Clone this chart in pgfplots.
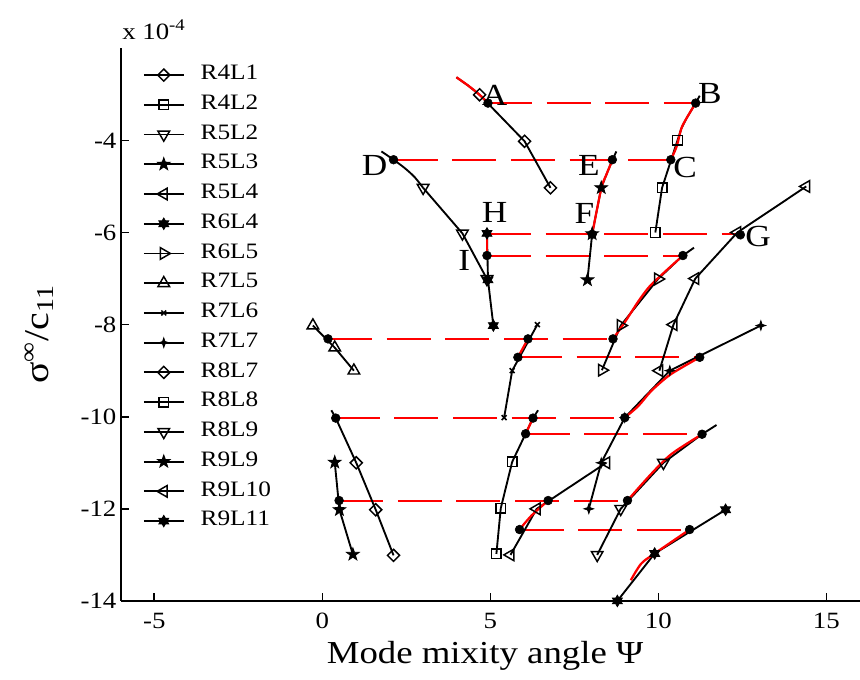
\documentclass[border=0pt]{standalone}
\usepackage{fontspec}
\setmainfont{Liberation Serif}[FakeStretch=1.15]
\usepackage{pgfplots}
\pgfplotsset{compat=1.18}

% filled five-pointed star
\pgfdeclareplotmark{starfive}{%
  \pgfpathmoveto{\pgfpointpolar{90}{\pgfplotmarksize}}%
  \pgfpathlineto{\pgfpointpolar{126}{0.4*\pgfplotmarksize}}%
  \pgfpathlineto{\pgfpointpolar{162}{\pgfplotmarksize}}%
  \pgfpathlineto{\pgfpointpolar{198}{0.4*\pgfplotmarksize}}%
  \pgfpathlineto{\pgfpointpolar{234}{\pgfplotmarksize}}%
  \pgfpathlineto{\pgfpointpolar{270}{0.4*\pgfplotmarksize}}%
  \pgfpathlineto{\pgfpointpolar{306}{\pgfplotmarksize}}%
  \pgfpathlineto{\pgfpointpolar{342}{0.4*\pgfplotmarksize}}%
  \pgfpathlineto{\pgfpointpolar{18}{\pgfplotmarksize}}%
  \pgfpathlineto{\pgfpointpolar{54}{0.4*\pgfplotmarksize}}%
  \pgfpathclose
  \pgfusepathqfillstroke
}
% filled six-pointed star
\pgfdeclareplotmark{starsix}{%
  \pgfpathmoveto{\pgfpointpolar{90}{\pgfplotmarksize}}%
  \pgfpathlineto{\pgfpointpolar{120}{0.577*\pgfplotmarksize}}%
  \pgfpathlineto{\pgfpointpolar{150}{\pgfplotmarksize}}%
  \pgfpathlineto{\pgfpointpolar{180}{0.577*\pgfplotmarksize}}%
  \pgfpathlineto{\pgfpointpolar{210}{\pgfplotmarksize}}%
  \pgfpathlineto{\pgfpointpolar{240}{0.577*\pgfplotmarksize}}%
  \pgfpathlineto{\pgfpointpolar{270}{\pgfplotmarksize}}%
  \pgfpathlineto{\pgfpointpolar{300}{0.577*\pgfplotmarksize}}%
  \pgfpathlineto{\pgfpointpolar{330}{\pgfplotmarksize}}%
  \pgfpathlineto{\pgfpointpolar{0}{0.577*\pgfplotmarksize}}%
  \pgfpathlineto{\pgfpointpolar{30}{\pgfplotmarksize}}%
  \pgfpathlineto{\pgfpointpolar{60}{0.577*\pgfplotmarksize}}%
  \pgfpathclose
  \pgfusepathqfillstroke
}
% filled four-pointed star
\pgfdeclareplotmark{starfour}{%
  \pgfpathmoveto{\pgfpointpolar{0}{\pgfplotmarksize}}%
  \pgfpathlineto{\pgfpointpolar{45}{0.35*\pgfplotmarksize}}%
  \pgfpathlineto{\pgfpointpolar{90}{\pgfplotmarksize}}%
  \pgfpathlineto{\pgfpointpolar{135}{0.35*\pgfplotmarksize}}%
  \pgfpathlineto{\pgfpointpolar{180}{\pgfplotmarksize}}%
  \pgfpathlineto{\pgfpointpolar{225}{0.35*\pgfplotmarksize}}%
  \pgfpathlineto{\pgfpointpolar{270}{\pgfplotmarksize}}%
  \pgfpathlineto{\pgfpointpolar{315}{0.35*\pgfplotmarksize}}%
  \pgfpathclose
  \pgfusepathqfillstroke
}

\pgfplotsset{
  serline/.style={color=black, line width=1.4pt},
  extline/.style={color=black, line width=1.4pt},
  fitline/.style={color=red, line width=1.7pt, smooth, tension=0.5},
  lvlline/.style={color=red, draw=red, line width=1.5pt, dash pattern=on 33pt off 11pt},
  dotpts/.style={color=black, only marks, mark=*, mark size=3.3pt},
}

\begin{document}
\begin{tikzpicture}
\begin{axis}[
  name=ax,
  scale only axis, width=554.5pt, height=414.5pt,
  xmin=-6, xmax=16, ymin=-14, ymax=-2,
  axis x line*=bottom, axis y line*=left,
  axis line style={-, line width=1.4pt},
  xtick={-5,0,5,10,15}, xticklabels={-5,0,5,10,15},
  ytick={-14,-12,-10,-8,-6,-4}, yticklabels={-14,-12,-10,-8,-6,-4},
  tick align=inside, major tick length=6pt,
  tick style={line width=1.2pt, black},
  tick label style={font=\fontsize{17.5}{20}\selectfont},
  xticklabel style={inner sep=0pt, yshift=-9pt},
  yticklabel style={inner sep=0pt, xshift=-3pt},
  xlabel={Mode mixity angle \symbol{"03A8}},
  xlabel style={at={(axis description cs:0.4928,0)}, anchor=north, yshift=-30.2pt, inner sep=0pt, font=\fontsize{24}{28}\selectfont},
  clip=false,
  legend cell align=left,
  legend style={draw=none, fill=none, inner sep=0pt, outer sep=0pt,
    at={(axis description cs:0.030,0.972)}, anchor=north west,
    font=\fontsize{16.5}{19}\selectfont, row sep=5.3pt,
    nodes={inner sep=0pt, text height=12pt, text depth=5pt},
    /tikz/every odd column/.style={column sep=12pt}},
  legend image code/.code={\draw[mark repeat=2, mark phase=2] plot coordinates {(0pt,0pt) (15pt,0pt) (30pt,0pt)};},
]

% constant-load levels joining matched points
\addplot[lvlline, forget plot] coordinates {(4.93,-3.19) (11.11,-3.19)};
\addplot[lvlline, forget plot] coordinates {(2.12,-4.42) (10.37,-4.42)};
\addplot[lvlline, forget plot] coordinates {(4.90,-6.04) (12.44,-6.04)};
\addplot[lvlline, forget plot] coordinates {(4.90,-6.50) (10.73,-6.50)};
\addplot[lvlline, forget plot] coordinates {(0.17,-8.31) (8.65,-8.31)};
\addplot[lvlline, forget plot] coordinates {(5.82,-8.71) (11.23,-8.71)};
\addplot[lvlline, forget plot] coordinates {(0.40,-10.03) (9.00,-10.03)};
\addplot[lvlline, forget plot] coordinates {(6.05,-10.37) (11.30,-10.37)};
\addplot[lvlline, forget plot] coordinates {(0.50,-11.82) (9.08,-11.82)};
\addplot[lvlline, forget plot] coordinates {(5.87,-12.45) (10.93,-12.45)};

% configurations
\addplot[serline, mark=square, mark size=3.2pt, mark options={solid, rotate=45, fill=white, line width=1.1pt}]
  coordinates {(4.68,-3.01) (6.02,-4.02) (6.79,-5.03)};
\addlegendentry{R4L1}
\addplot[serline, mark=square, mark size=3.6pt, mark options={solid, fill=white, line width=1.1pt}]
  coordinates {(9.91,-6.00) (10.11,-5.03) (10.57,-4.00)};
\addlegendentry{R4L2}
\addplot[serline, mark=triangle, mark size=5pt, mark options={solid, rotate=180, fill=white, line width=1.1pt}]
  coordinates {(3.00,-5.03) (4.17,-6.02) (4.90,-7.01)};
\addlegendentry{R5L2}
\addplot[serline, mark=starfive, mark size=5pt, mark options={solid, fill=black, line width=0.6pt}]
  coordinates {(8.30,-5.03) (8.03,-6.03) (7.89,-7.03)};
\addlegendentry{R5L3}
\addplot[serline, mark=triangle, mark size=5pt, mark options={solid, rotate=90, fill=white, line width=1.1pt}]
  coordinates {(14.40,-5.00) (12.35,-6.00) (11.10,-7.00) (10.45,-8.00) (10.03,-9.00)};
\addlegendentry{R5L4}
\addplot[serline, mark=starsix, mark size=4.3pt, mark options={solid, fill=black, line width=0.6pt}]
  coordinates {(4.90,-6.02) (4.93,-7.03) (5.09,-8.02)};
\addlegendentry{R6L4}
\addplot[serline, mark=triangle, mark size=5pt, mark options={solid, rotate=-90, fill=white, line width=1.1pt}]
  coordinates {(8.32,-8.99) (8.88,-8.02) (9.99,-7.01)};
\addlegendentry{R6L5}
\addplot[serline, mark=triangle, mark size=5pt, mark options={solid, fill=white, line width=1.1pt}]
  coordinates {(-0.28,-8.02) (0.37,-8.50) (0.94,-9.00)};
\addlegendentry{R7L5}
\addplot[serline, mark=x, mark size=2.6pt, mark options={solid, line width=1.1pt}]
  coordinates {(6.40,-8.00) (5.65,-9.00) (5.41,-10.02)};
\addlegendentry{R7L6}
\addplot[serline, mark=starfour, mark size=3.6pt, mark options={solid, fill=black, line width=0.6pt}]
  coordinates {(13.05,-8.02) (10.34,-9.00) (9.00,-10.02) (8.30,-11.00) (7.93,-12.00)};
\addlegendentry{R7L7}
\addplot[serline, mark=square, mark size=3.2pt, mark options={solid, rotate=45, fill=white, line width=1.1pt}]
  coordinates {(1.01,-11.00) (1.59,-12.02) (2.12,-13.01)};
\addlegendentry{R8L7}
\addplot[serline, mark=square, mark size=3.6pt, mark options={solid, fill=white, line width=1.1pt}]
  coordinates {(5.65,-10.98) (5.31,-11.99) (5.18,-12.98)};
\addlegendentry{R8L8}
\addplot[serline, mark=triangle, mark size=5pt, mark options={solid, rotate=180, fill=white, line width=1.1pt}]
  coordinates {(10.15,-11.00) (8.88,-12.00) (8.18,-13.00)};
\addlegendentry{R8L9}
\addplot[serline, mark=starfive, mark size=5pt, mark options={solid, fill=black, line width=0.6pt}]
  coordinates {(0.37,-10.99) (0.51,-12.02) (0.91,-12.99)};
\addlegendentry{R9L9}
\addplot[serline, mark=triangle, mark size=5pt, mark options={solid, rotate=90, fill=white, line width=1.1pt}]
  coordinates {(8.45,-11.00) (6.38,-12.00) (5.60,-13.00)};
\addlegendentry{R9L10}
\addplot[serline, mark=starsix, mark size=4.3pt, mark options={solid, fill=black, line width=0.6pt}]
  coordinates {(12.00,-12.02) (9.89,-12.97) (8.78,-14.00)};
\addlegendentry{R9L11}

% continuation of the curves beyond the marked points
\addplot[extline, forget plot] coordinates {(3.99,-2.63) (4.34,-2.81) (4.68,-3.01)};
\addplot[extline, forget plot] coordinates {(10.57,-4.00) (10.68,-3.75) (10.83,-3.53) (11.11,-3.19) (11.23,-3.03)};
\addplot[extline, smooth, forget plot] coordinates {(1.76,-4.24) (2.12,-4.42) (2.45,-4.60) (2.75,-4.80) (3.00,-5.03)};
\addplot[extline, forget plot] coordinates {(8.30,-5.03) (8.45,-4.75) (8.63,-4.43) (8.75,-4.24)};
\addplot[extline, forget plot] coordinates {(9.99,-7.01) (10.73,-6.50) (11.06,-6.33)};
\addplot[extline, forget plot] coordinates {(0.27,-9.86) (0.40,-10.03) (1.01,-11.00)};
\addplot[extline, forget plot] coordinates {(5.65,-10.98) (6.05,-10.37) (6.27,-10.03) (6.42,-9.86)};
\addplot[extline, forget plot] coordinates {(10.15,-11.00) (11.30,-10.38) (11.73,-10.18)};

% fitted segments between matched points
\addplot[fitline, forget plot] coordinates {(3.99,-2.63) (4.34,-2.81) (4.68,-3.01) (4.93,-3.19)};
\addplot[fitline, forget plot] coordinates {(10.37,-4.42) (10.54,-4.14) (10.68,-3.75) (10.83,-3.53) (11.11,-3.19)};
\addplot[fitline, forget plot] coordinates {(8.63,-4.43) (8.45,-4.75) (8.30,-5.05) (8.03,-6.04)};
\addplot[fitline, forget plot] coordinates {(4.90,-6.02) (4.90,-6.50)};
\addplot[fitline, forget plot] coordinates {(8.65,-8.31) (9.00,-7.95) (9.40,-7.50) (9.74,-7.17) (10.20,-6.85) (10.73,-6.50)};
\addplot[fitline, forget plot] coordinates {(5.82,-8.71) (6.12,-8.31)};
\addplot[fitline, forget plot] coordinates {(11.23,-8.71) (10.68,-8.94) (10.29,-9.12) (9.79,-9.44) (9.40,-9.77) (9.00,-10.02)};
\addplot[fitline, forget plot] coordinates {(6.05,-10.37) (6.27,-10.03)};
\addplot[fitline, forget plot] coordinates {(9.08,-11.82) (9.79,-11.24) (10.39,-10.81) (11.30,-10.38)};
\addplot[fitline, forget plot] coordinates {(5.87,-12.45) (6.22,-12.15) (6.72,-11.82)};
\addplot[fitline, forget plot] coordinates {(9.18,-13.55) (9.49,-13.19) (9.89,-12.97) (10.93,-12.45)};

% matched points
\addplot[dotpts, forget plot] coordinates {
  (4.93,-3.19) (11.11,-3.19) (10.37,-4.42) (2.12,-4.42) (8.63,-4.42)
  (8.03,-6.04) (12.44,-6.05) (4.90,-6.50) (10.73,-6.50)
  (0.17,-8.31) (6.12,-8.31) (8.65,-8.31) (5.82,-8.71) (11.23,-8.71)
  (0.40,-10.03) (6.27,-10.03) (9.00,-10.02) (6.05,-10.37) (11.30,-10.38)
  (0.50,-11.82) (6.72,-11.82) (9.08,-11.82) (5.87,-12.45) (10.93,-12.45)};

% point labels
\begin{scope}[every node/.style={font=\fontsize{23}{26}\selectfont, inner sep=0pt, anchor=center}]
\node at (axis cs:5.13,-3.03) {A};
\node at (axis cs:11.53,-2.99) {B};
\node at (axis cs:10.80,-4.58) {C};
\node at (axis cs:1.56,-4.54) {D};
\node at (axis cs:7.93,-4.54) {E};
\node at (axis cs:7.80,-5.59) {F};
\node at (axis cs:12.97,-6.09) {G};
\node at (axis cs:5.13,-5.57) {H};
\node at (axis cs:4.22,-6.61) {I};
\end{scope}

% axis annotations
\node[anchor=base west, inner sep=0pt, xshift=1pt, yshift=6.75pt, font=\fontsize{17.5}{20}\selectfont]
  at (rel axis cs:0,1) {x 10\textsuperscript{-4}};
\node[rotate=90, anchor=center, inner sep=0pt, font=\fontsize{26}{30}\selectfont]
  at (axis description cs:-0.1105,0.482) {σ\textsuperscript{∞}/c\textsubscript{11}};
\end{axis}
\pgfresetboundingbox
\useasboundingbox ([xshift=-90.5pt,yshift=-58.7pt]ax.south west) rectangle ([yshift=36.2pt]ax.north east);
\end{tikzpicture}
\end{document}
